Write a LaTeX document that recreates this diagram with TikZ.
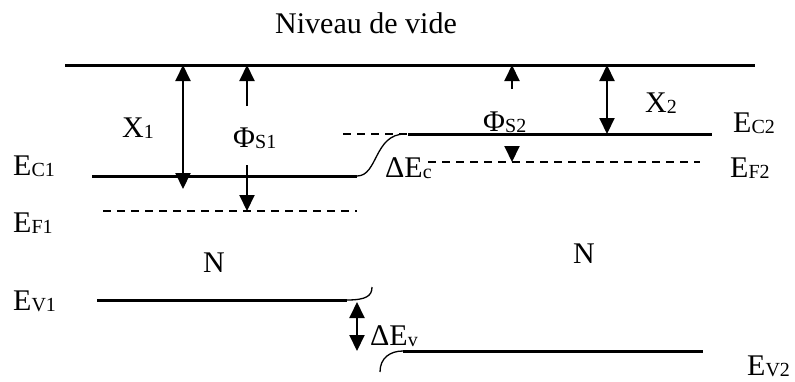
\documentclass[tikz,border=0pt]{standalone}
\usepackage{fontspec}
\setmainfont{Liberation Serif}
\usetikzlibrary{arrows.meta}
\newcommand{\lsub}[1]{\raisebox{-0.05em}{\fontsize{20}{20}\selectfont #1}}
\tikzset{
  band/.style={line width=3pt},
  fermi/.style={line width=1.6pt, dash pattern=on 8pt off 6pt},
  stepcurve/.style={line width=1.3pt},
  tip/.style={-{Triangle[length=16pt,width=15pt]}, line width=2pt},
  dtip/.style={{Triangle[length=16pt,width=15pt]}-{Triangle[length=16pt,width=15pt]}, line width=2pt},
  lbl/.style={font=\fontsize{30}{32}\selectfont, inner sep=0pt, anchor=base west},
}
\begin{document}
\begin{tikzpicture}[x=1pt,y=-1pt]
\useasboundingbox (0,0) rectangle (795,381);
% levels
\coordinate (vl) at (65,65); \coordinate (vr) at (755,65);
\draw[band] (vl) -- (vr);
\coordinate (c1l) at (92,176); \coordinate (c1r) at (357,176);
\draw[band] (c1l) -- (c1r);
\coordinate (f1l) at (103,211); \coordinate (f1r) at (357,211);
\draw[fermi] (f1l) -- (f1r);
\coordinate (v1l) at (97,300); \coordinate (v1r) at (347,300);
\draw[band] (v1l) -- (v1r);
\coordinate (c2l) at (408,134); \coordinate (c2r) at (712,134);
\draw[band] (c2l) -- (c2r);
\coordinate (c2d) at (343,134);
\draw[fermi] (c2d) -- (c2l);
\coordinate (f2l) at (428,162); \coordinate (f2r) at (700,162);
\draw[fermi] (f2l) -- (f2r);
\coordinate (v2l) at (403,351); \coordinate (v2r) at (703,351);
\draw[band] (v2l) -- (v2r);
% discontinuities
\coordinate (ce) at (405,134);
\draw[stepcurve] (c1r) .. controls (378,176) and (374,134) .. (ce);
\coordinate (v1e) at (372,287);
\draw[stepcurve] (v1r) .. controls (366,300) and (372,296) .. (v1e);
\coordinate (v2s) at (380,372);
\draw[stepcurve] (v2s) .. controls (380,358) and (390,351) .. (v2l);
% arrows
\coordinate (x1t) at (183,65); \coordinate (x1b) at (183,189);
\draw[dtip] (x1t) -- (x1b);
\coordinate (p1t) at (247,65); \coordinate (p1m) at (247,106);
\draw[tip] (p1m) -- (p1t);
\coordinate (p1n) at (247,165); \coordinate (p1b) at (247,211);
\draw[tip] (p1n) -- (p1b);
\coordinate (x2t) at (607,65); \coordinate (x2b) at (607,134);
\draw[dtip] (x2t) -- (x2b);
\coordinate (p2t) at (512,65); \coordinate (p2m) at (512,89);
\draw[tip] (p2m) -- (p2t);
\coordinate (p2n) at (512,146); \coordinate (p2b) at (512,162);
\draw[tip] (p2n) -- (p2b);
\coordinate (dvt) at (357,302); \coordinate (dvb) at (357,351);
\draw[dtip] (dvt) -- (dvb);
% labels
\node[lbl] (nv) at (275,33) {Niveau de vide};
\node[lbl] (x1) at (122,137) {X\lsub{1}};
\node[lbl] (ps1) at (233,147) {Φ\lsub{S1}};
\node[lbl] (x2) at (645,112) {X\lsub{2}};
\node[lbl] (ps2) at (483,131) {Φ\lsub{S2}};
\node[lbl] (dec) at (385,177) {ΔE\lsub{c}};
\node[lbl] (dev) at (370,345) {ΔE\lsub{v}};
\node[lbl] (ec1) at (13,175) {E\lsub{C1}};
\node[lbl] (ef1) at (13,232) {E\lsub{F1}};
\node[lbl] (ev1) at (13,310) {E\lsub{V1}};
\node[lbl] (ec2) at (733,132) {E\lsub{C2}};
\node[lbl] (ef2) at (730,177) {E\lsub{F2}};
\node[lbl] (ev2) at (747,375) {E\lsub{V2}};
\node[lbl] (n1) at (203,272) {N};
\node[lbl] (n2) at (573,263) {N};
\end{tikzpicture}
\end{document}
